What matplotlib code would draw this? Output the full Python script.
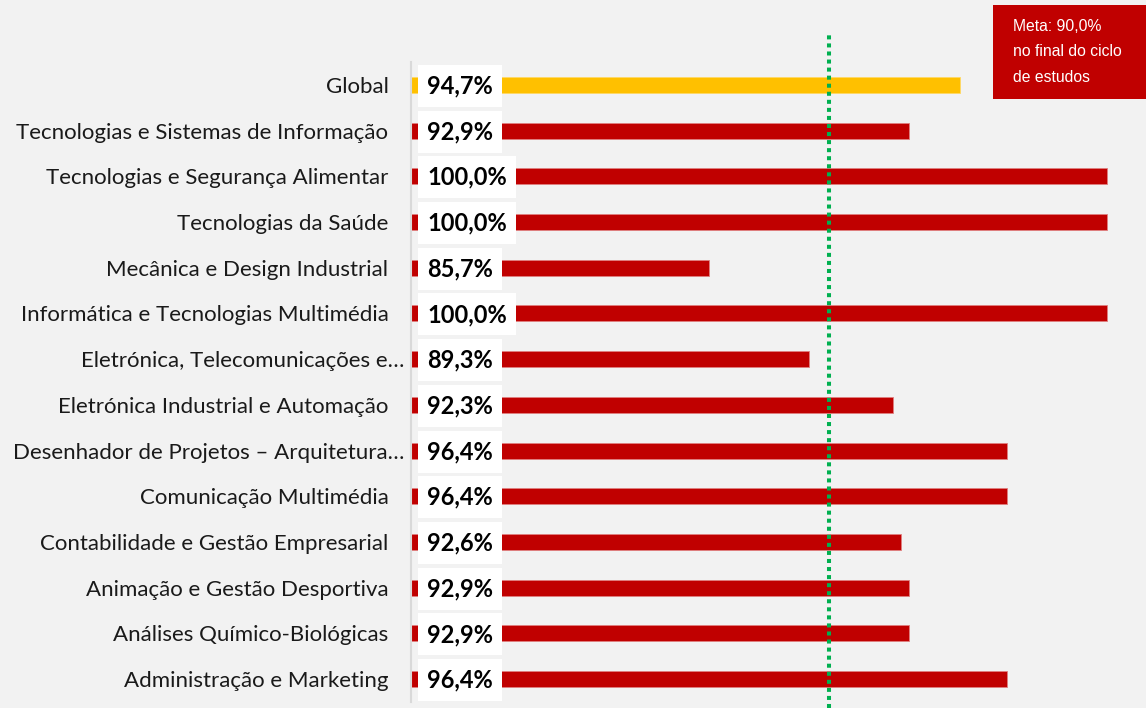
# 导入库
import numpy as np
import matplotlib.pyplot as plt
from matplotlib.patches import Rectangle
from matplotlib.transforms import blended_transform_factory, offset_copy

# 数据
cursos = ['Global',
          'Tecnologias e Sistemas de Informação',
          'Tecnologias e Segurança Alimentar',
          'Tecnologias da Saúde',
          'Mecânica e Design Industrial',
          'Informática e Tecnologias Multimédia',
          'Eletrónica, Telecomunicações e…',
          'Eletrónica Industrial e Automação',
          'Desenhador de Projetos – Arquitetura…',
          'Comunicação Multimédia',
          'Contabilidade e Gestão Empresarial',
          'Animação e Gestão Desportiva',
          'Análises Químico-Biológicas',
          'Administração e Marketing']
taxas = [94.7, 92.9, 100.0, 100.0, 85.7, 100.0, 89.3, 92.3, 96.4, 96.4, 92.6, 92.9, 92.9, 96.4]
meta = 90.0

W, H = 1146, 708
fundo = '#f2f2f2'
vermelho = '#C00000'
amarelo = '#FFC000'

fig = plt.figure(figsize=(W / 100, H / 100), dpi=100, facecolor=fundo)
ax = fig.add_axes([410.5 / W, 1 - 702 / H, (W - 410.5) / W, 640 / H])
ax.set_facecolor(fundo)

# 条形图
y = np.arange(len(cursos))
cores = [amarelo] + [vermelho] * (len(cursos) - 1)
bordas = ['#ffd966'] + ['#e08080'] * (len(cursos) - 1)
ax.barh(y, taxas, height=0.35, color=cores, edgecolor=bordas, linewidth=0.6)
ax.set_xlim(75, 75 + (W - 410.5) / 27.87)
ax.set_ylim(len(cursos) - 0.5, -0.5)

for s in ['top', 'right', 'bottom']:
    ax.spines[s].set_visible(False)
ax.spines['left'].set_color('#d9d9d9')
ax.spines['left'].set_linewidth(1.5)
ax.set_xticks([])
ax.set_yticks([])

# 类别标签和数值标签
trans = blended_transform_factory(ax.transAxes, ax.transData)
for i, (nome, v) in enumerate(zip(cursos, taxas)):
    dx = -6 if nome.endswith('…') else -22
    ax.text(0, i, nome, transform=offset_copy(trans, fig, x=dx, y=-2, units='dots'),
            ha='right', va='center', fontsize=16, fontfamily='Lato', color='#1a1a1a')
    ax.text(0, i, f'{v:.1f}%'.replace('.', ','),
            transform=offset_copy(trans, fig, x=16.5, y=-1, units='dots'),
            ha='left', va='center', fontsize=17, fontweight='bold', fontfamily='Lato',
            color='black', bbox=dict(boxstyle='square,pad=0.4', fc='white', ec='none'))

# 目标线
ax.plot([meta, meta], [-0.01, 1.042], transform=ax.get_xaxis_transform(),
        color='#00B050', lw=2.9, linestyle=(0, (1, 1)), dash_capstyle='butt', clip_on=False)

# 目标说明框
fig.add_artist(Rectangle((993 / W, 1 - 99 / H), (W - 993) / W, 94 / H,
                         transform=fig.transFigure, fc=vermelho, ec='none'))
fig.text(1013 / W, 1 - 52 / H, 'Meta: 90,0%\nno final do ciclo\nde estudos',
         ha='left', va='center', color='white', fontsize=11.3,
         fontfamily='Liberation Sans', linespacing=1.9)

fig.savefig('out.png', dpi=100, facecolor=fig.get_facecolor())
